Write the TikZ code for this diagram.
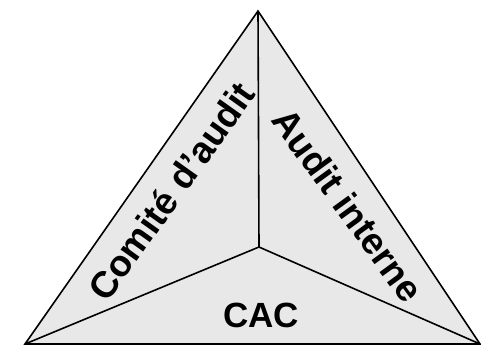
\documentclass[tikz,border=0pt]{standalone}
\usepackage{fontspec}
\setmainfont{Liberation Sans}
\begin{document}
\begin{tikzpicture}[x=1pt,y=-1pt,
  edge/.style={line width=1.6pt, line join=miter},
  lbl/.style={font=\fontsize{35}{40}\selectfont\bfseries, inner sep=0pt},
  biglbl/.style={font=\fontsize{37}{42}\selectfont\bfseries, inner sep=0pt}]
\useasboundingbox (0,0) rectangle (481,349);
\coordinate (T) at (258,11);
\coordinate (L) at (25,344);
\coordinate (R) at (480,344);
\coordinate (C) at (259,247);
\fill[fill={rgb,255:red,232;green,232;blue,232}] (T) -- (L) -- (R) -- cycle;
\draw[edge] (T) -- (L) -- (R) -- cycle;
\draw[edge] (C) -- (T);
\draw[edge] (C) -- (L);
\draw[edge] (C) -- (R);
\node[biglbl, rotate=54.5] (ca) at (171,191) {Comité d’audit};
\node[biglbl, rotate=-54] (ai) at (348,205) {Audit interne};
\node[lbl] (cac) at (261,315) {CAC};
\end{tikzpicture}
\end{document}
